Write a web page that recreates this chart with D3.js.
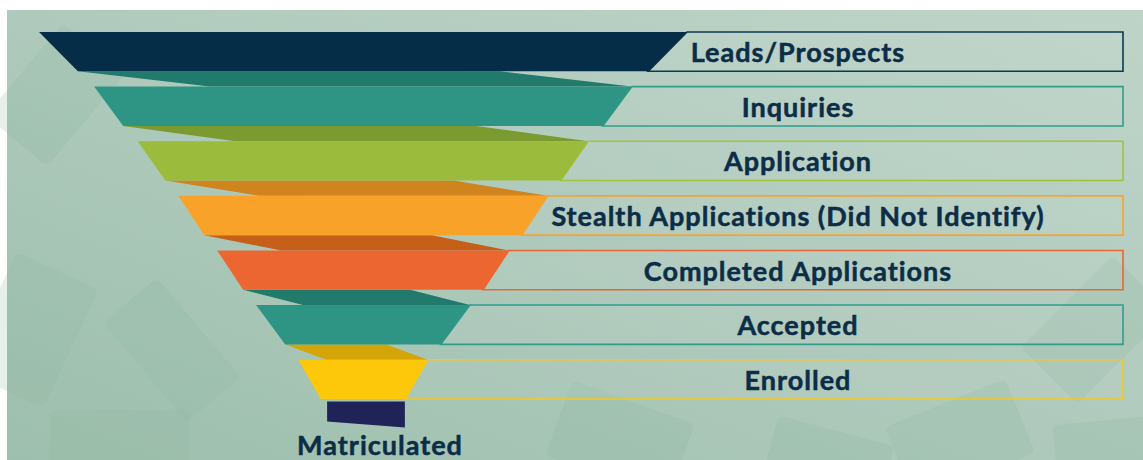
<!DOCTYPE html>
<html>
<head>
<meta charset="utf-8">
<script src="https://cdn.jsdelivr.net/npm/d3@7"></script>
<style>
  html, body { margin: 0; padding: 0; background: #fff; }
  svg { display: block; }
  text { font-family: "Lato", "Open Sans", sans-serif; font-weight: 700; }
</style>
</head>
<body>
<svg id="chart" width="1143" height="460"></svg>
<script>
const stages = [
  "Leads/Prospects",
  "Inquiries",
  "Application",
  "Stealth Applications (Did Not Identify)",
  "Completed Applications",
  "Accepted",
  "Enrolled",
];
const topWidth = [100, 83, 69.5, 57, 45, 33, 20];
const bottomWidth = [88, 74, 61, 49, 37, 24, 13];
const finalStage = "Matriculated";
const finalWidth = 12;

const bandColors = ["#052d47", "#2e9584", "#9bbb3c", "#f8a229", "#ec6632", "#2e9584", "#fdc80a"];
const foldColors = ["#217a6b", "#7b9a2f", "#cf841e", "#c65f17", "#217a6b", "#d3a508"];
const boxColors = ["#0d3752", "#2e9e8a", "#a3c33a", "#f8a42c", "#ec6632", "#2e9e8a", "#f7c81c"];
const finalColor = "#1f2357";
const textColor = "#0c2d47";

const svg = d3.select("#chart");

// ---- background ----
const defs = svg.append("defs");
const bg = defs.append("linearGradient").attr("id", "bg")
  .attr("x1", "0").attr("y1", "1").attr("x2", "1").attr("y2", "0");
bg.append("stop").attr("offset", "0").attr("stop-color", "#9dbfad");
bg.append("stop").attr("offset", "0.5").attr("stop-color", "#afcabc");
bg.append("stop").attr("offset", "1").attr("stop-color", "#bfd4c9");

svg.append("rect").attr("x", 7).attr("y", 10).attr("width", 1136).attr("height", 450)
  .attr("fill", "url(#bg)");

// faint scattered bills in the backdrop
const cards = [
  [55, 95, 80, 120, 40], [30, 330, 90, 130, 25], [172, 350, 70, 130, -40],
  [1095, 330, 80, 130, 45], [960, 440, 130, 80, -22], [620, 440, 130, 80, 20],
  [120, 445, 140, 70, 0], [1110, 450, 110, 60, -5], [830, 455, 120, 50, 15],
];
svg.append("g").selectAll("rect").data(cards).join("rect")
  .attr("x", d => -d[2] / 2).attr("y", d => -d[3] / 2)
  .attr("width", d => d[2]).attr("height", d => d[3]).attr("rx", 6)
  .attr("transform", d => `translate(${d[0]},${d[1]}) rotate(${d[4]})`)
  .attr("fill", "#8db6a1").attr("opacity", 0.22);

// ---- scales ----
const cx = 363;
const w = d3.scaleLinear().domain([0, 100]).range([0, 648]);
const y = d3.scaleBand().domain(stages).range([32, 399]).paddingInner(0.28).paddingOuter(0);
const boxRight = 1123;
const labelX = 798;

const rows = stages.map((s, i) => ({
  name: s,
  i,
  top: y(s),
  bottom: y(s) + y.bandwidth(),
  lt: cx - w(topWidth[i]) / 2,
  rt: cx + w(topWidth[i]) / 2,
  lb: cx - w(bottomWidth[i]) / 2,
  rb: cx + w(bottomWidth[i]) / 2,
}));

// ---- label boxes ----
svg.append("g").selectAll("path").data(rows).join("path")
  .attr("d", d => `M${d.rt},${d.top}H${boxRight}V${d.bottom}H${d.rb}Z`)
  .attr("fill", "#ffffff").attr("fill-opacity", 0.05)
  .attr("stroke", d => boxColors[d.i]).attr("stroke-width", 1.6);

// ---- folds between bands ----
const folds = rows.slice(0, -1).map((d, i) => {
  const n = rows[i + 1];
  const fw = 0.78 * ((d.rb - d.lb) + (n.rt - n.lt)) / 2 - 10;
  return [[d.lb, d.bottom], [d.lb + fw, d.bottom], [n.rt, n.top], [n.rt - fw, n.top]];
});
svg.append("g").selectAll("path").data(folds).join("path")
  .attr("d", d => "M" + d.join("L") + "Z")
  .attr("fill", (d, i) => foldColors[i]);

// ---- bands ----
svg.append("g").selectAll("path").data(rows).join("path")
  .attr("d", d => `M${d.lt},${d.top}L${d.rt},${d.top}L${d.rb},${d.bottom}L${d.lb},${d.bottom}Z`)
  .attr("fill", d => bandColors[d.i]);

// ---- final (matriculated) block ----
const last = rows[rows.length - 1];
const fTop = last.bottom + 2.5;
const fl = cx + 3 - w(finalWidth) / 2, fr = cx + 3 + w(finalWidth) / 2;
svg.append("path")
  .attr("d", `M${fl},${fTop}L${fr},${fTop}L${fr},${fTop + 26}L${fl},${fTop + 20}Z`)
  .attr("fill", finalColor);

// ---- labels ----
svg.append("g").selectAll("text").data(rows).join("text")
  .attr("x", labelX)
  .attr("y", d => (d.top + d.bottom) / 2 + 10.5)
  .attr("text-anchor", "middle")
  .attr("font-size", 27)
  .attr("letter-spacing", 1)
  .attr("fill", textColor)
  .attr("stroke", textColor).attr("stroke-width", 0.5)
  .text(d => d.name);

svg.append("text")
  .attr("x", 380).attr("y", 455)
  .attr("text-anchor", "middle")
  .attr("font-size", 27)
  .attr("letter-spacing", 1)
  .attr("fill", textColor)
  .attr("stroke", textColor).attr("stroke-width", 0.5)
  .text(finalStage);
</script>
</body>
</html>
